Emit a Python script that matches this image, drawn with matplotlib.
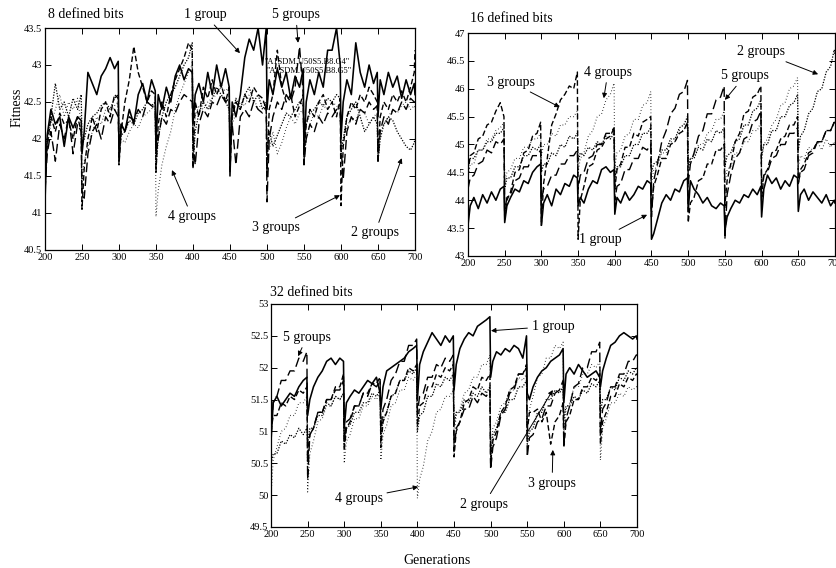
import matplotlib
matplotlib.use('Agg')
import matplotlib.pyplot as plt

plt.rcParams['font.family'] = ['Liberation Serif', 'DejaVu Serif']

# generation grid: 10 epochs of 50 generations each, sampled at these offsets
OFFSETS = [0, 3, 8, 14, 20, 26, 32, 38, 44, 49]
GENS = [200 + 50 * e + o for e in range(10) for o in OFFSETS] + [700]
XTICKS = [200, 250, 300, 350, 400, 450, 500, 550, 600, 650, 700]

# ---------------- 8 defined bits ----------------
p8_g1 = [41.15, 42.05, 42.4, 42.2, 42.3, 41.9, 42.3, 42.15, 42.3, 42.25,
         41.8, 42.1, 42.9, 42.75, 42.6, 42.85, 42.95, 43.1, 42.95, 43.05,
         41.7, 42.2, 42.1, 42.4, 42.2, 42.6, 42.75, 42.5, 42.8, 42.65,
         41.9, 42.6, 42.4, 42.7, 42.5, 42.85, 43.0, 42.8, 42.95, 42.9,
         42.2, 42.6, 42.75, 42.5, 42.9, 42.6, 43.0, 42.7, 42.95, 42.7,
         41.5, 42.5, 42.3, 42.6, 43.1, 43.35, 43.2, 43.5, 43.0, 43.5,
         42.4, 42.8, 42.6, 42.95, 42.7, 42.9, 42.55, 42.85, 42.7, 42.95,
         41.8, 42.5, 42.8, 42.6, 42.9, 42.7, 43.2, 43.2, 43.5, 43.0,
         42.0, 42.5, 42.8, 42.6, 43.3, 42.9, 42.7, 43.0, 42.75, 42.9,
         42.3, 42.8, 42.6, 42.9, 42.7, 42.85, 42.55, 42.8, 42.6, 42.75,
         42.6]
p8_g2 = [41.7, 42.0, 42.3, 42.75, 42.4, 42.5, 42.3, 42.55, 42.4, 42.6,
         41.9, 42.0, 42.2, 42.3, 42.35, 42.45, 42.5, 42.4, 42.55, 42.6,
         41.9, 42.05, 42.1, 42.25, 42.2, 42.35, 42.4, 42.5, 42.45, 42.5,
         41.6, 42.0, 42.3, 42.5, 42.6, 42.7, 42.85, 43.0, 43.1, 43.3,
         41.65, 42.1, 42.35, 42.5, 42.4, 42.55, 42.7, 42.6, 42.5, 42.4,
         41.9, 42.3, 42.55, 42.4, 42.6, 42.7, 42.5, 42.6, 42.4, 42.5,
         41.8, 42.1, 41.9, 42.05, 42.2, 42.35, 42.3, 42.4, 42.5, 42.45,
         41.9, 42.2, 42.35, 42.4, 42.5, 42.45, 42.55, 42.5, 42.6, 42.55,
         41.8, 42.0, 42.3, 42.4, 42.5, 42.3, 42.1, 42.2, 42.3, 42.2,
         41.7, 42.0, 42.2, 42.3, 42.25, 42.1, 42.0, 41.9, 41.85, 41.95,
         42.0]
p8_g3 = [41.5, 41.9, 42.3, 42.1, 42.35, 42.2, 42.25, 42.0, 42.3, 42.1,
         41.05, 41.6, 42.0, 42.3, 42.1, 42.4, 42.5, 42.3, 42.6, 42.55,
         41.65, 42.1, 42.5, 42.8, 43.25, 42.9, 42.7, 42.5, 42.65, 42.6,
         41.55, 42.2, 42.5, 42.3, 42.6, 42.8, 42.95, 43.1, 43.3, 43.2,
         41.6, 42.5, 42.3, 42.7, 42.55, 42.8, 42.6, 42.75, 42.5, 42.7,
         41.55, 42.3, 42.5, 42.4, 42.6, 42.5, 42.7, 42.6, 42.55, 42.4,
         41.5, 42.4, 42.6, 43.2, 42.7, 42.5, 42.6, 42.3, 42.45, 42.6,
         41.7, 42.2, 42.4, 42.3, 42.5, 42.6, 42.4, 42.5, 42.3, 42.55,
         41.1, 41.9, 42.3, 42.5, 42.4, 42.6, 42.5, 42.7, 42.6, 42.5,
         41.75, 42.3, 42.5, 42.4, 42.6, 42.5, 42.65, 42.5, 42.7, 42.9,
         43.2]
p8_g4 = [41.6, 41.9, 42.2, 42.4, 42.6, 42.3, 42.5, 42.4, 42.55, 42.2,
         41.4, 41.7, 41.9, 42.1, 42.3, 42.2, 42.4, 42.35, 42.45, 42.5,
         41.8, 42.0, 41.95, 42.1, 42.2, 42.15, 42.3, 42.35, 42.4, 42.5,
         40.95, 41.3, 41.65, 41.9, 42.1, 42.4, 42.6, 42.75, 42.9, 43.0,
         42.0, 42.3, 42.45, 42.4, 42.5, 42.55, 42.6, 42.7, 42.65, 42.7,
         41.95, 42.2, 42.35, 42.5, 42.45, 42.6, 42.55, 42.4, 42.5, 42.45,
         42.0, 41.85, 42.1, 41.8, 41.95, 42.15, 42.3, 42.2, 42.35, 42.4,
         41.7, 42.0, 42.2, 42.35, 42.3, 42.45, 42.4, 42.5, 42.45, 42.4,
         41.8, 42.0, 42.15, 42.3, 42.25, 42.4, 42.35, 42.2, 42.3, 42.35,
         41.9, 42.1, 42.2, 42.3, 42.4, 42.35, 42.45, 42.5, 42.4, 42.45,
         42.4]
p8_g5 = [41.3, 41.8, 42.1, 41.7, 42.2, 42.0, 42.3, 41.8, 42.2, 42.1,
         41.3, 41.2, 41.8, 42.1, 42.2, 42.0, 42.3, 42.2, 42.4, 42.3,
         41.9, 42.2, 42.1, 42.3, 42.25, 42.4, 42.3, 42.5, 42.45, 42.4,
         41.8, 42.0, 42.3, 42.2, 42.4, 42.35, 42.5, 42.6, 42.55, 42.5,
         42.0, 41.65, 42.2, 42.4, 42.3, 42.5, 42.45, 42.6, 42.5, 42.55,
         41.9, 42.2, 41.65, 42.3, 42.4, 42.3, 42.5, 42.4, 42.35, 42.45,
         41.15, 42.0, 42.3, 42.5, 42.4, 42.6, 42.5, 42.7, 43.25, 42.6,
         41.65, 42.0, 42.2, 42.1, 42.3, 42.2, 42.35, 42.3, 42.4, 42.35,
         41.9, 41.45, 42.1, 42.3, 42.2, 42.4, 42.35, 42.5, 42.4, 42.45,
         41.7, 42.1, 42.3, 42.2, 42.4, 42.35, 42.5, 42.4, 42.55, 42.5,
         42.5]

# ---------------- 16 defined bits ----------------
p16_g1 = [43.55, 43.9, 44.05, 43.85, 44.1, 43.95, 44.15, 44.0, 44.2, 44.25,
          43.6, 43.9, 44.05, 44.2, 44.15, 44.35, 44.3, 44.5, 44.6, 44.65,
          43.55, 43.95, 44.1, 43.9, 44.2, 44.1, 44.3, 44.25, 44.45, 44.4,
          43.9, 44.05, 43.95, 44.2, 44.35, 44.3, 44.55, 44.6, 44.5, 44.55,
          43.75, 44.05, 43.95, 44.15, 44.0, 44.1, 44.25, 44.2, 44.35, 44.3,
          43.3, 43.4, 43.65, 43.95, 44.1, 44.0, 44.2, 44.15, 44.35, 44.4,
          43.8, 44.35, 44.2, 44.1, 43.95, 44.05, 43.9, 43.85, 43.95, 43.9,
          43.45, 43.7, 43.85, 44.0, 43.95, 44.1, 44.05, 44.2, 44.1, 44.25,
          43.7, 44.2, 44.45, 44.3, 44.4, 44.2, 44.35, 44.25, 44.45, 44.4,
          43.8, 44.1, 44.2, 44.0, 44.15, 44.05, 43.95, 44.1, 43.9, 44.0,
          43.95]
p16_g2 = [44.6, 44.75, 44.75, 44.9, 44.9, 45.05, 45.05, 45.2, 45.2, 45.3,
          44.2, 44.4, 44.4, 44.6, 44.6, 44.8, 44.8, 44.95, 44.9, 45.0,
          44.5, 44.65, 44.65, 44.85, 44.8, 45.0, 44.95, 45.15, 45.1, 45.2,
          44.7, 44.85, 44.8, 44.95, 44.9, 45.05, 45.0, 45.15, 45.1, 45.2,
          44.4, 44.6, 44.6, 44.8, 44.8, 45.0, 45.0, 45.2, 45.2, 45.3,
          44.5, 44.65, 44.7, 44.9, 44.9, 45.1, 45.1, 45.3, 45.35, 45.5,
          44.6, 44.75, 44.75, 44.95, 44.9, 45.1, 45.05, 45.25, 45.2, 45.3,
          44.6, 44.8, 44.85, 45.05, 45.1, 45.35, 45.35, 45.6, 45.65, 45.8,
          44.8, 45.0, 45.0, 45.25, 45.25, 45.5, 45.5, 45.7, 45.75, 45.9,
          44.9, 45.15, 45.25, 45.55, 45.65, 45.95, 46.0, 46.3, 46.4, 46.7,
          46.6]
p16_g3 = [44.5, 44.8, 44.85, 45.1, 45.15, 45.35, 45.4, 45.6, 45.75, 45.5,
          43.65, 44.0, 44.15, 44.5, 44.55, 44.85, 44.9, 45.15, 45.2, 45.4,
          43.55, 44.3, 44.75, 45.35, 45.55, 45.8, 45.9, 46.05, 46.0, 46.3,
          43.3, 44.0, 44.25, 44.6, 44.65, 44.9, 44.95, 45.1, 45.15, 45.3,
          44.2, 44.55, 44.65, 44.95, 44.95, 45.2, 45.15, 45.4, 45.45, 45.5,
          43.8, 44.25, 44.45, 44.75, 44.75, 45.0, 45.05, 45.2, 45.25, 45.4,
          43.6, 43.95, 44.05, 44.35, 44.4, 44.65, 44.65, 44.9, 44.9, 45.0,
          43.9, 44.35, 44.65, 45.05, 45.2, 45.55, 45.6, 45.85, 45.9, 46.05,
          44.0, 44.45, 44.55, 44.85, 44.9, 45.1, 45.15, 45.35, 45.35, 45.5,
          44.3, 44.55, 44.65, 44.85, 44.9, 45.05, 45.05, 45.25, 45.25, 45.4,
          45.35]
p16_g4 = [44.4, 44.65, 44.65, 44.9, 44.9, 45.1, 45.1, 45.25, 45.3, 45.4,
          44.3, 44.5, 44.55, 44.75, 44.75, 44.95, 44.95, 45.1, 45.1, 45.2,
          44.8, 45.0, 45.0, 45.2, 45.15, 45.35, 45.35, 45.5, 45.5, 45.6,
          44.5, 44.75, 44.85, 45.15, 45.25, 45.5, 45.55, 45.8, 45.9, 46.1,
          44.6, 44.85, 44.9, 45.15, 45.2, 45.45, 45.45, 45.7, 45.75, 45.95,
          44.3, 44.55, 44.6, 44.85, 44.85, 45.05, 45.05, 45.25, 45.25, 45.4,
          44.5, 44.75, 44.8, 45.0, 45.0, 45.2, 45.25, 45.45, 45.45, 45.6,
          44.3, 44.55, 44.6, 44.85, 44.85, 45.05, 45.05, 45.25, 45.25, 45.4,
          44.7, 45.0, 45.1, 45.35, 45.45, 45.7, 45.75, 46.0, 46.05, 46.2,
          44.6, 44.8, 44.75, 44.95, 44.9, 45.05, 44.9, 45.1, 44.95, 45.05,
          45.0]
p16_g5 = [44.2, 44.4, 44.45, 44.65, 44.7, 44.9, 44.85, 45.05, 45.0, 45.1,
          43.8, 44.05, 44.1, 44.35, 44.4, 44.6, 44.6, 44.8, 44.8, 44.9,
          44.0, 44.2, 44.25, 44.45, 44.45, 44.65, 44.65, 44.8, 44.8, 44.9,
          44.2, 44.45, 44.5, 44.75, 44.8, 45.0, 45.0, 45.2, 45.2, 45.3,
          44.0, 44.25, 44.3, 44.55, 44.55, 44.75, 44.75, 44.95, 44.9, 45.0,
          43.7, 44.35, 44.65, 45.05, 45.25, 45.55, 45.65, 45.9, 45.95, 46.15,
          44.3, 44.65, 44.85, 45.15, 45.25, 45.55, 45.55, 45.8, 45.85, 46.05,
          43.3, 44.1, 44.45, 44.75, 44.85, 45.1, 45.15, 45.4, 45.45, 45.6,
          44.2, 44.45, 44.5, 44.75, 44.8, 45.0, 45.0, 45.2, 45.2, 45.3,
          44.3, 44.5, 44.55, 44.8, 44.85, 45.05, 45.05, 45.25, 45.25, 45.4,
          45.45]

# ---------------- 32 defined bits ----------------
p32_g1 = [50.85, 51.45, 51.55, 51.4, 51.5, 51.6, 51.55, 51.7, 51.8, 51.85,
          51.25, 51.5, 51.7, 51.85, 51.95, 52.1, 52.15, 52.05, 52.15, 52.1,
          51.05, 51.45, 51.55, 51.65, 51.6, 51.7, 51.8, 51.75, 51.85, 51.6,
          51.35, 51.7, 51.95, 52.0, 52.05, 52.1, 52.15, 52.25, 52.3, 52.35,
          51.5, 52.05, 52.25, 52.4, 52.55, 52.45, 52.35, 52.5, 52.4, 52.5,
          51.65, 52.05, 52.3, 52.45, 52.55, 52.5, 52.65, 52.7, 52.75, 52.8,
          51.85, 52.1, 52.25, 52.2, 52.3, 52.25, 52.35, 52.3, 52.15, 52.5,
          51.6, 51.5, 51.7, 51.85, 51.95, 52.0, 52.1, 52.15, 52.2, 52.3,
          51.45, 51.9, 52.0, 51.9, 52.05, 51.95, 51.85, 51.9, 51.95, 51.85,
          51.7, 51.95, 52.15, 52.35, 52.4, 52.5, 52.55, 52.5, 52.45, 52.5,
          52.45]
p32_g2 = [50.5, 50.65, 50.65, 50.85, 50.8, 50.95, 50.9, 51.05, 50.95, 51.05,
          50.8, 51.05, 51.05, 51.25, 51.25, 51.45, 51.4, 51.55, 51.5, 51.6,
          50.8, 51.05, 51.1, 51.3, 51.3, 51.45, 51.45, 51.6, 51.55, 51.65,
          50.9, 51.2, 51.3, 51.55, 51.6, 51.8, 51.8, 51.95, 51.9, 52.0,
          51.0, 51.25, 51.3, 51.55, 51.55, 51.75, 51.7, 51.85, 51.8, 51.9,
          51.1, 51.3, 51.3, 51.5, 51.45, 51.6, 51.55, 51.7, 51.6, 51.7,
          50.6, 50.95, 51.05, 51.3, 51.3, 51.5, 51.5, 51.7, 51.7, 51.8,
          50.8, 51.0, 51.05, 51.3, 51.3, 51.5, 51.5, 51.65, 51.6, 51.7,
          51.2, 51.4, 51.4, 51.55, 51.5, 51.65, 51.6, 51.75, 51.7, 51.8,
          51.3, 51.5, 51.5, 51.7, 51.65, 51.85, 51.8, 51.95, 51.9, 52.0,
          52.0]
p32_g3 = [51.0, 51.25, 51.25, 51.45, 51.4, 51.55, 51.5, 51.65, 51.6, 51.7,
          50.6, 50.95, 51.05, 51.3, 51.3, 51.5, 51.5, 51.7, 51.7, 51.9,
          50.7, 51.05, 51.15, 51.4, 51.4, 51.6, 51.6, 51.75, 51.75, 51.85,
          50.75, 51.15, 51.3, 51.55, 51.6, 51.8, 51.8, 52.0, 51.95, 52.05,
          51.1, 51.4, 51.45, 51.7, 51.7, 51.9, 51.85, 52.0, 51.95, 52.05,
          50.6, 51.0, 51.15, 51.45, 51.5, 51.7, 51.65, 51.85, 51.8, 51.9,
          50.5, 50.85, 51.0, 51.3, 51.4, 51.65, 51.7, 51.9, 51.9, 52.0,
          51.0, 51.3, 51.3, 51.35, 51.15, 51.3, 50.8, 51.15, 51.25, 51.45,
          50.75, 51.15, 51.25, 51.5, 51.5, 51.7, 51.7, 51.85, 51.8, 51.9,
          50.8, 51.15, 51.3, 51.55, 51.55, 51.75, 51.7, 51.85, 51.8, 51.9,
          51.9]
p32_g4 = [50.0, 50.55, 50.75, 51.0, 51.05, 51.25, 51.25, 51.45, 51.45, 51.55,
          50.05, 50.65, 50.85, 51.15, 51.2, 51.4, 51.4, 51.55, 51.5, 51.6,
          50.5, 50.85, 50.95, 51.2, 51.2, 51.4, 51.4, 51.55, 51.5, 51.6,
          50.55, 50.95, 51.1, 51.4, 51.45, 51.65, 51.65, 51.85, 51.8, 51.9,
          49.95, 50.25, 50.45, 50.85, 51.0, 51.3, 51.35, 51.55, 51.55, 51.65,
          50.9, 51.25, 51.35, 51.6, 51.65, 51.85, 51.85, 52.05, 52.05, 52.2,
          50.7, 51.05, 51.15, 51.4, 51.45, 51.65, 51.65, 51.85, 51.8, 51.9,
          50.9, 51.35, 51.55, 51.85, 51.9, 52.15, 52.15, 52.35, 52.3, 52.4,
          51.0, 51.35, 51.45, 51.7, 51.7, 51.9, 51.9, 52.05, 52.0, 52.1,
          50.55, 51.05, 51.2, 51.45, 51.45, 51.6, 51.55, 51.7, 51.65, 51.7,
          51.7]
p32_g5 = [50.9, 51.5, 51.55, 51.8, 51.8, 51.95, 51.95, 52.15, 52.1, 52.25,
          50.25, 50.95, 51.05, 51.3, 51.3, 51.5, 51.5, 51.65, 51.65, 51.8,
          50.85, 51.15, 51.2, 51.4, 51.4, 51.6, 51.55, 51.75, 51.7, 51.8,
          51.0, 51.35, 51.5, 51.8, 51.9, 52.1, 52.1, 52.35, 52.35, 52.45,
          51.3, 51.55, 51.6, 51.85, 51.85, 52.05, 52.0, 52.15, 52.1, 52.2,
          50.7, 51.05, 51.15, 51.35, 51.35, 51.55, 51.45, 51.6, 51.55, 51.65,
          50.4, 50.75, 50.9, 51.25, 51.35, 51.6, 51.65, 51.9, 51.9, 52.05,
          50.6, 50.9, 50.95, 51.15, 51.2, 51.4, 51.4, 51.6, 51.65, 51.8,
          50.8, 51.2, 51.4, 51.7, 51.75, 52.0, 52.0, 52.25, 52.25, 52.4,
          51.0, 51.35, 51.45, 51.7, 51.7, 51.9, 51.9, 52.1, 52.1, 52.2,
          52.2]

Y8_TICKS = [40.5, 41, 41.5, 42, 42.5, 43, 43.5]
Y8_LABELS = ['40.5', '41', '41.5', '42', '42.5', '43', '43.5']
Y16_TICKS = [43, 43.5, 44, 44.5, 45, 45.5, 46, 46.5, 47]
Y16_LABELS = ['43', '43.5', '44', '44.5', '45', '45.5', '46', '46.5', '47']
Y32_TICKS = [49.5, 50, 50.5, 51, 51.5, 52, 52.5, 53]
Y32_LABELS = ['49.5', '50', '50.5', '51', '51.5', '52', '52.5', '53']

STYLES = {
    2: dict(ls=(0, (1, 1.2)), lw=0.9),
    4: dict(ls=(0, (0.6, 2.2)), lw=0.8),
    5: dict(ls=(0, (7, 3)), lw=1.0),
    3: dict(ls=(0, (4, 2)), lw=1.0),
    1: dict(ls='-', lw=1.15),
}

fig = plt.figure(figsize=(8.36, 5.68), dpi=100)
ax8 = fig.add_axes([0.0538, 0.5599, 0.4426, 0.3908])
ax16 = fig.add_axes([0.5598, 0.5493, 0.4390, 0.3926])
ax32 = fig.add_axes([0.3242, 0.0722, 0.4378, 0.3926])


def setup(ax, ylim, yt, yl):
    ax.set_xlim(200, 700)
    ax.set_ylim(*ylim)
    ax.set_xticks(XTICKS)
    ax.set_xticklabels([str(t) for t in XTICKS])
    ax.set_yticks(yt)
    ax.set_yticklabels(yl)
    ax.tick_params(direction='in', top=True, right=True, length=4,
                   width=0.7, labelsize=7.5, pad=2)
    for s in ax.spines.values():
        s.set_linewidth(0.9)


def draw(ax, series):
    for k in (4, 2, 5, 3, 1):
        ax.plot(GENS, series[k], color='black', **STYLES[k])


draw(ax8, {1: p8_g1, 2: p8_g2, 3: p8_g3, 4: p8_g4, 5: p8_g5})
draw(ax16, {1: p16_g1, 2: p16_g2, 3: p16_g3, 4: p16_g4, 5: p16_g5})
draw(ax32, {1: p32_g1, 2: p32_g2, 3: p32_g3, 4: p32_g4, 5: p32_g5})
setup(ax8, (40.5, 43.5), Y8_TICKS, Y8_LABELS)
setup(ax16, (43, 47), Y16_TICKS, Y16_LABELS)
setup(ax32, (49.5, 53), Y32_TICKS, Y32_LABELS)

ARROW = dict(arrowstyle='-|>', lw=0.7, color='black', mutation_scale=7,
             shrinkA=1, shrinkB=0)


def note(ax, text, xy, xytext):
    ax.annotate(text, xy=xy, xytext=xytext, ha='center', va='center',
                fontsize=10, arrowprops=ARROW, annotation_clip=False)


note(ax8, '1 group', (463.5, 43.16), (416, 43.68))
note(ax8, '5 groups', (542, 43.3), (539, 43.68))
note(ax8, '4 groups', (371.6, 41.58), (398.6, 40.95))
note(ax8, '3 groups', (598.6, 41.24), (512, 40.80))
note(ax8, '2 groups', (682, 41.74), (646, 40.73))
ax8.text(497, 43.04, '"A1SDM.U50S5.B8.G4"', fontsize=6, ha='left', va='center')
ax8.text(499, 42.92, '"A1SDM.U50S5.B8.G5"', fontsize=6, ha='left', va='center')

note(ax16, '3 groups', (325, 45.67), (258.6, 46.12))
note(ax16, '4 groups', (385, 45.83), (390.7, 46.30))
note(ax16, '1 group', (444, 43.74), (380, 43.30))
note(ax16, '5 groups', (550, 45.8), (577, 46.23))
note(ax16, '2 groups', (677, 46.26), (599, 46.66))

note(ax32, '5 groups', (237, 52.18), (249, 52.48))
note(ax32, '1 group', (500.5, 52.58), (585, 52.65))
note(ax32, '4 groups', (401, 50.13), (320, 49.95))
note(ax32, '2 groups', (585, 51.65), (491, 49.86))
note(ax32, '3 groups', (585, 50.71), (584, 50.19))

fig.text(48 / 836, 1 - 14 / 568, '8 defined bits', fontsize=10, ha='left', va='center')
fig.text(470 / 836, 1 - 18 / 568, '16 defined bits', fontsize=10, ha='left', va='center')
fig.text(270 / 836, 1 - 293 / 568, '32 defined bits', fontsize=10, ha='left', va='center')
fig.text(17 / 836, 1 - 107 / 568, 'Fitness', fontsize=10, rotation=90, ha='center', va='center')
fig.text(437 / 836, 1 - 560 / 568, 'Generations', fontsize=10, ha='center', va='center')

fig.savefig('out.png', dpi=100)
